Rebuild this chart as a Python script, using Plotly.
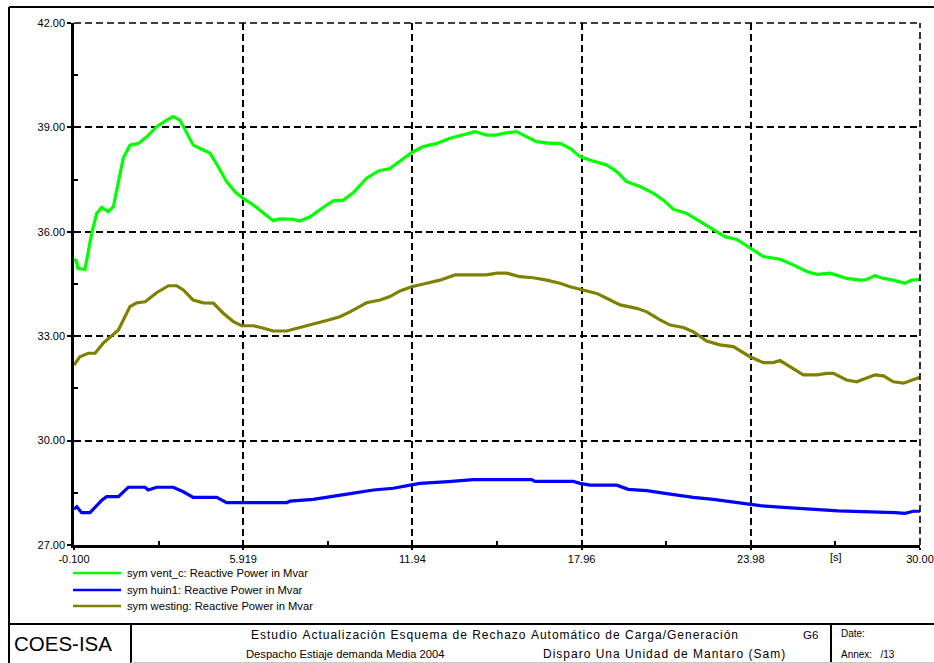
import plotly.graph_objects as go

# ---------------- data ----------------
t_vent = [-0.10, -0.03, 0.04, 0.29, 0.53, 0.71, 0.89, 1.12, 1.30, 1.48, 1.65, 1.89, 2.19, 2.49, 2.84,
          3.20, 3.43, 3.67, 3.91, 4.14, 4.50, 4.74, 5.03, 5.33, 5.63, 5.92, 6.28, 6.64, 6.99, 7.23,
          7.70, 7.94, 8.30, 8.89, 9.13, 9.48, 9.84, 10.31, 10.73, 11.14, 11.56, 11.92, 12.33, 12.81,
          13.28, 13.75, 14.17, 14.58, 14.94, 15.17, 15.65, 15.89, 16.36, 16.84, 17.19, 17.55, 17.90,
          18.38, 18.85, 19.21, 19.56, 20.04, 20.51, 20.87, 21.22, 21.70, 22.17, 22.65, 23.06, 23.48,
          23.95, 24.43, 25.02, 25.49, 25.97, 26.33, 26.80, 27.39, 27.87, 28.10, 28.40, 28.70, 29.05,
          29.47, 29.71, 30.00]
q_vent = [35.15, 35.21, 34.95, 34.92, 35.96, 36.53, 36.70, 36.58, 36.72, 37.39, 38.11, 38.49, 38.54,
          38.73, 39.02, 39.21, 39.31, 39.21, 38.83, 38.49, 38.35, 38.26, 37.87, 37.44, 37.15, 36.96,
          36.77, 36.53, 36.32, 36.37, 36.36, 36.31, 36.43, 36.77, 36.89, 36.91, 37.13, 37.54, 37.75,
          37.82, 38.06, 38.28, 38.45, 38.54, 38.69, 38.78, 38.88, 38.78, 38.78, 38.83, 38.88, 38.78,
          38.59, 38.54, 38.54, 38.40, 38.16, 38.03, 37.92, 37.73, 37.44, 37.30, 37.11, 36.91, 36.65,
          36.53, 36.29, 36.05, 35.86, 35.78, 35.53, 35.29, 35.21, 35.05, 34.86, 34.78, 34.81, 34.66,
          34.61, 34.63, 34.74, 34.66, 34.61, 34.52, 34.61, 34.63]

t_huin = [-0.10, 0.00, 0.17, 0.47, 0.89, 1.06, 1.48, 1.83, 2.43, 2.54, 2.84, 3.43, 3.79, 4.14, 4.98,
          5.33, 7.47, 7.59, 8.41, 9.13, 9.84, 10.55, 11.26, 11.86, 12.21, 13.22, 14.11, 16.18, 16.30,
          17.66, 17.90, 18.26, 19.21, 19.62, 20.28, 20.87, 21.46, 21.93, 22.65, 23.12, 23.71, 24.31,
          25.14, 25.97, 27.09, 29.11, 29.47, 29.76, 30.00]
q_huin = [28.03, 28.10, 27.93, 27.93, 28.29, 28.39, 28.39, 28.66, 28.66, 28.58, 28.66, 28.66, 28.53,
          28.37, 28.37, 28.22, 28.22, 28.26, 28.31, 28.41, 28.49, 28.58, 28.63, 28.72, 28.77, 28.82,
          28.88, 28.88, 28.83, 28.83, 28.77, 28.72, 28.72, 28.60, 28.56, 28.49, 28.42, 28.37, 28.31,
          28.26, 28.20, 28.13, 28.08, 28.03, 27.98, 27.93, 27.91, 27.97, 27.97]

t_west = [-0.10, 0.11, 0.41, 0.65, 0.94, 1.48, 1.89, 2.13, 2.43, 2.84, 3.26, 3.55, 3.79, 4.14, 4.50,
          4.86, 5.21, 5.57, 5.87, 6.28, 6.64, 6.99, 7.47, 7.94, 8.41, 8.89, 9.36, 9.72, 10.08, 10.31,
          10.79, 11.14, 11.50, 11.92, 12.45, 12.92, 13.46, 13.99, 14.58, 14.94, 15.30, 15.77, 16.24,
          16.72, 17.19, 17.55, 18.02, 18.50, 18.85, 19.33, 19.92, 20.28, 20.75, 21.11, 21.58, 21.93,
          22.41, 22.88, 23.36, 23.95, 24.43, 24.78, 25.02, 25.38, 25.85, 26.33, 26.68, 26.92, 27.39,
          27.75, 28.10, 28.40, 28.70, 29.05, 29.41, 29.71, 30.00]
q_west = [32.17, 32.41, 32.51, 32.51, 32.80, 33.18, 33.85, 33.96, 33.99, 34.25, 34.45, 34.45, 34.33,
          34.04, 33.96, 33.95, 33.66, 33.42, 33.30, 33.30, 33.23, 33.15, 33.15, 33.24, 33.35, 33.45,
          33.56, 33.70, 33.87, 33.96, 34.04, 34.14, 34.30, 34.42, 34.52, 34.61, 34.76, 34.76, 34.76,
          34.81, 34.81, 34.71, 34.68, 34.61, 34.52, 34.42, 34.33, 34.23, 34.09, 33.90, 33.80, 33.70,
          33.47, 33.32, 33.25, 33.13, 32.86, 32.75, 32.70, 32.41, 32.24, 32.24, 32.30, 32.12, 31.89,
          31.89, 31.93, 31.93, 31.74, 31.69, 31.79, 31.89, 31.86, 31.69, 31.65, 31.74, 31.82]

series_names = ["sym vent_c: Reactive Power in Mvar",
                "sym huin1: Reactive Power in Mvar",
                "sym westing: Reactive Power in Mvar"]
series_colors = ["#00FF00", "#0000FF", "#808000"]

x_tickvals = [-0.1, 5.919, 11.94, 17.96, 23.98, 30.0]
x_ticktext = ["-0.100", "5.919", "11.94", "17.96", "23.98", "30.00"]
x_minor = [2.9095, 8.9295, 14.95, 20.97, 26.99]
y_tickvals = [27, 30, 33, 36, 39, 42]
y_ticktext = ["27.00", "30.00", "33.00", "36.00", "39.00", "42.00"]
y_minor = [28.5, 31.5, 34.5, 37.5, 40.5]

FONT = "Liberation Sans, Arial, sans-serif"

fig = go.Figure()
for tx, qy, nm, col in [(t_vent, q_vent, series_names[0], series_colors[0]),
                        (t_huin, q_huin, series_names[1], series_colors[1]),
                        (t_west, q_west, series_names[2], series_colors[2])]:
    fig.add_trace(go.Scatter(x=tx, y=qy, mode="lines", name=nm,
                             line=dict(color=col, width=3.2)))

W, H = 934, 663
L, R, T, B = 74, 14, 23, 118
pw, ph = W - L - R, H - T - B


def px(xp):
    return (xp - L) / pw


def py(yp):
    return (H - B - yp) / ph


fig.update_layout(
    width=W, height=H,
    margin=dict(l=L, r=R, t=T, b=B, autoexpand=False),
    paper_bgcolor="white", plot_bgcolor="white",
    font=dict(family=FONT, size=11, color="black"),
    showlegend=False,
    xaxis=dict(range=[-0.1, 30.0], tickvals=x_tickvals, ticktext=x_ticktext,
               automargin=False,
               showgrid=True, gridcolor="black", gridwidth=1.6, griddash="7px,4px",
               showline=True, linecolor="black", linewidth=2.5,
               ticks="outside", ticklen=2, tickwidth=1.5, tickcolor="black",
               tickfont=dict(family=FONT, size=11, color="black"),
               zeroline=False, fixedrange=True,
               minor=dict(tickvals=x_minor, ticks="inside", ticklen=4, tickwidth=1.5,
                          tickcolor="black", showgrid=False)),
    yaxis=dict(range=[27, 42], tickvals=y_tickvals, ticktext=y_ticktext,
               automargin=False,
               showgrid=True, gridcolor="black", gridwidth=1.6, griddash="7px,4px",
               showline=True, linecolor="black", linewidth=2.5,
               ticks="outside", ticklen=4, tickwidth=1.5, tickcolor="black",
               tickfont=dict(family=FONT, size=11, color="black"),
               zeroline=False, fixedrange=True,
               minor=dict(tickvals=y_minor, ticks="inside", ticklen=4, tickwidth=1.5,
                          tickcolor="black", showgrid=False)),
)

# dashed border at top and right of plotting area
fig.add_shape(type="line", xref="paper", yref="paper", x0=0, x1=1, y0=1, y1=1,
              line=dict(color="black", width=1.6, dash="7px,4px"))
fig.add_shape(type="line", xref="paper", yref="paper", x0=1, x1=1, y0=0, y1=1,
              line=dict(color="black", width=1.6, dash="7px,4px"))

# outer frame and title block
frame = dict(color="black", width=2)
fig.add_shape(type="line", xref="paper", yref="paper", x0=px(9), x1=px(940), y0=py(7), y1=py(7), line=frame)
fig.add_shape(type="line", xref="paper", yref="paper", x0=px(9), x1=px(9), y0=py(7), y1=py(670), line=frame)
fig.add_shape(type="line", xref="paper", yref="paper", x0=px(9), x1=px(940), y0=py(624), y1=py(624), line=frame)
fig.add_shape(type="line", xref="paper", yref="paper", x0=px(131), x1=px(131), y0=py(624), y1=py(670), line=frame)
fig.add_shape(type="line", xref="paper", yref="paper", x0=px(831), x1=px(831), y0=py(624), y1=py(670), line=frame)
fig.add_shape(type="line", xref="paper", yref="paper", x0=px(131), x1=px(940), y0=py(662.5), y1=py(662.5),
              line=dict(color="#c8c8c8", width=1))


def txt(s, x, y, size=11, xanchor="left"):
    fig.add_annotation(text=s, xref="paper", yref="paper", x=px(x), y=py(y),
                       xanchor=xanchor, yanchor="middle", showarrow=False,
                       font=dict(family=FONT, size=size, color="black"))


# legend drawn below the plot area
legend_y = [573, 590, 606]
for nm, col, ly in zip(series_names, series_colors, legend_y):
    fig.add_shape(type="line", xref="paper", yref="paper", x0=px(73), x1=px(121), y0=py(ly), y1=py(ly),
                  line=dict(color=col, width=2.5))
    txt(nm, 125, ly, 11.2)


def spaced(s):
    return "\u200a".join(list(s))


txt("[s]", 836, 557, 11, "center")
txt("COES-ISA", 12, 643, 20.5)
txt(spaced("Estudio Actualización Esquema de Rechazo Automático de Carga/Generación"), 494, 635, 12, "center")
txt("G6", 820, 635, 11.5, "right")
txt("Despacho Estiaje demanda Media 2004", 244, 654, 11.2)
txt(spaced("Disparo Una Unidad de Mantaro (Sam)"), 541, 654, 12)
txt("Date:", 839, 634, 10)
txt("Annex:   /13", 839, 654, 10)

fig.write_html("out.html", config={"displayModeBar": False},
               post_script="document.body.style.margin='0';document.body.style.overflow='hidden';")
